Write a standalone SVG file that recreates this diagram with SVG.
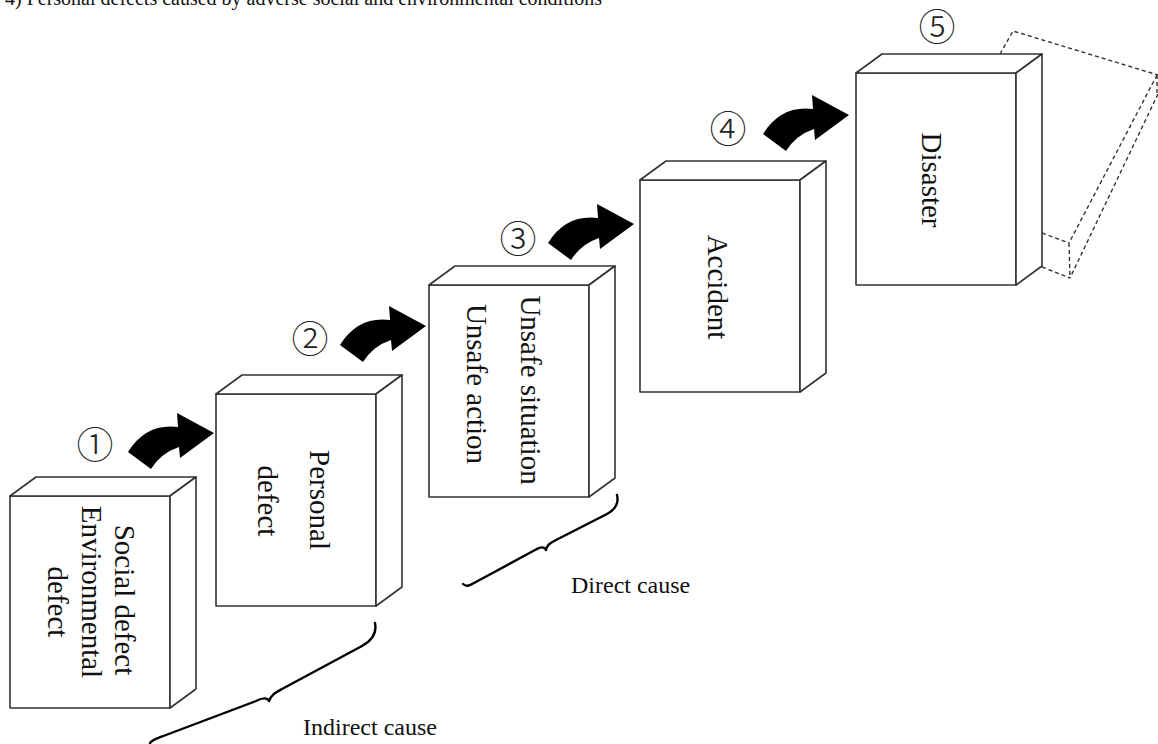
<svg xmlns="http://www.w3.org/2000/svg" width="1158" height="744" viewBox="0 0 1158 744">
<style>
.face{fill:#fff;stroke:#333;stroke-width:1.6;stroke-linejoin:round}
.lbl{font-family:"Liberation Serif","Times New Roman",serif;font-size:29px;fill:#111;text-anchor:middle}
.num{font-family:"Noto Sans CJK JP","DejaVu Sans",sans-serif;font-size:37px;fill:#222;text-anchor:middle;dominant-baseline:central;font-weight:300}
.cap{font-family:"Liberation Serif","Times New Roman",serif;font-size:24px;fill:#111}
.title{font-family:"Liberation Serif","Times New Roman",serif;font-size:20px;fill:#111}
.arr{fill:#000}
.brace{fill:none;stroke:#000;stroke-width:2.4;stroke-linecap:round;stroke-linejoin:round}
.dash{fill:none;stroke:#333;stroke-width:1.4;stroke-dasharray:4 3}
</style>
<defs>
<path id="arrow" d="M0,0 Q18,-29 50,-25 L49,-39 L86,-19 L52,6 L51,-5 Q33,1 23,17 Z"/>
<g id="box">
<rect class="face" x="0" y="0" width="160" height="212"/>
<polygon class="face" points="0,0 26,-19 186,-19 160,0"/>
<polygon class="face" points="160,0 186,-19 186,193 160,212"/>
</g>
</defs>

<text class="title" x="5" y="5">4) Personal defects caused by adverse social and environmental conditions</text>

<g id="dashed-box">
<polyline class="dash" points="1000,54 1013,31 1158,75"/>
<line class="dash" x1="1157" y1="75" x2="1069" y2="243"/>
<line class="dash" x1="1158" y1="94" x2="1070" y2="278"/>
<line class="dash" x1="1157" y1="75" x2="1157" y2="96"/>
<line class="dash" x1="1069" y1="243" x2="1070" y2="278"/>
<line class="dash" x1="1042" y1="233" x2="1069" y2="243"/>
<line class="dash" x1="1042" y1="267" x2="1070" y2="278"/>
</g>

<g id="node1">
<use href="#box" x="10" y="496"/>
<text class="lbl" transform="translate(115,600) rotate(90)">Social defect</text>
<text class="lbl" transform="translate(82,592) rotate(90)">Environmental</text>
<text class="lbl" transform="translate(48,602) rotate(90)">defect</text>
<text class="num" x="95" y="443">①</text>
</g>

<g id="node2">
<use href="#box" x="216" y="394"/>
<text class="lbl" transform="translate(310,500) rotate(90)">Personal</text>
<text class="lbl" transform="translate(258,501) rotate(90)">defect</text>
<text class="num" x="310" y="337">②</text>
</g>

<g id="node3">
<use href="#box" x="429" y="285"/>
<text class="lbl" transform="translate(521,390) rotate(90)">Unsafe situation</text>
<text class="lbl" transform="translate(467,384) rotate(90)">Unsafe action</text>
<text class="num" x="518" y="237">③</text>
</g>

<g id="node4">
<use href="#box" x="640" y="180"/>
<text class="lbl" transform="translate(708,287) rotate(90)">Accident</text>
<text class="num" x="728" y="127">④</text>
</g>

<g id="node5">
<use href="#box" x="856" y="73"/>
<text class="lbl" transform="translate(922,180) rotate(90)">Disaster</text>
<text class="num" x="937" y="25">⑤</text>
</g>

<g id="connectors">
<use class="arr" href="#arrow" x="128" y="452"/>
<use class="arr" href="#arrow" x="340" y="345"/>
<use class="arr" href="#arrow" x="548" y="243"/>
<use class="arr" href="#arrow" x="763" y="134"/>
</g>

<g id="braces">
<path class="brace" d="M375,623 C377,633 373,640 362,646 L282,689 C275,693 271,695 269,701 C267,697 262,698 256,701 L166,735 C158,738 153,739 150,743"/>
<path class="brace" d="M617,495 C619,503 616,509 607,514 L556,540 C550,543 547,545 546,550 C544,546 540,547 535,550 L474,583 C469,586 466,587 463,584"/>
</g>

<text class="cap" x="303" y="735">Indirect cause</text>
<text class="cap" x="571" y="593">Direct cause</text>
</svg>
